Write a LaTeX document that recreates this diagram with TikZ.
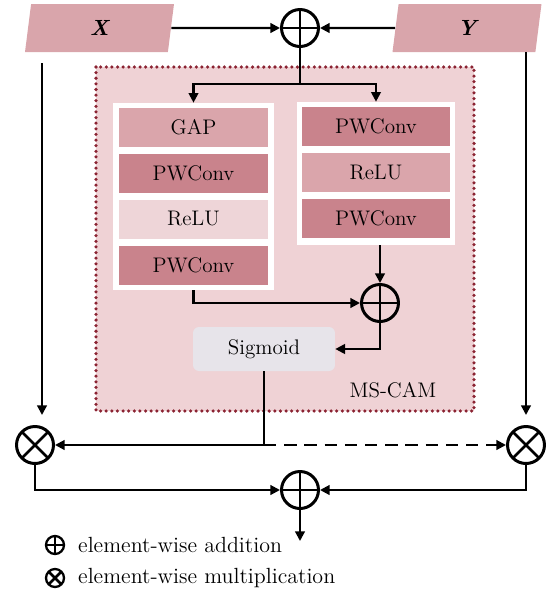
\documentclass[tikz,border=0pt]{standalone}
\usepackage{tikz}
\usetikzlibrary{arrows.meta,shapes.geometric}

\definecolor{inpink}{HTML}{D9A5AB}
\definecolor{campink}{HTML}{EFD2D5}
\definecolor{gapcol}{HTML}{DAA5AB}
\definecolor{pwcol}{HTML}{C9838C}
\definecolor{relucol}{HTML}{EED5D8}
\definecolor{sigcol}{HTML}{E7E4EA}
\definecolor{dotred}{HTML}{8B2332}

\begin{document}
\begin{tikzpicture}[x=0.02cm,y=-0.02cm,
        font=\fontsize{12}{14}\selectfont,
        line/.style={very thick},
        arr/.style={very thick,-{Triangle[length=5.5pt,width=5.5pt]}},
        op/.style={circle,draw,line width=1.7pt,minimum size=0.74cm,inner sep=0pt},
        addop/.style={op,path picture={\draw[line width=1.5pt]
            (path picture bounding box.north) -- (path picture bounding box.south)
            (path picture bounding box.west) -- (path picture bounding box.east);}},
        mulop/.style={op,path picture={\draw[line width=1.5pt]
            (path picture bounding box.north west) -- (path picture bounding box.south east)
            (path picture bounding box.north east) -- (path picture bounding box.south west);}},
        small op/.style={minimum size=0.36cm,line width=1.3pt},
        layer/.style={minimum width=2.98cm,minimum height=0.78cm,inner sep=0pt},
        whitebox/.style={fill=white,inner sep=0pt},
        input/.style={trapezium,trapezium left angle=68,trapezium right angle=112,
            trapezium stretches body,fill=inpink,inner sep=0pt,
            minimum width=2.98cm,minimum height=0.96cm,
            font=\fontsize{12.5}{14}\selectfont\bfseries\itshape},
        camframe/.style={draw=dotred,fill=campink,line width=2pt,line cap=round,
            dash pattern=on 0pt off 3.2pt}]
    \useasboundingbox (0,0) rectangle (548,596);

    % inputs and first fusion
    \node[input] (xin) at (99.5,28) {X};
    \node[input] (yin) at (467,28) {Y};
    \node[addop] (add1) at (300,28) {};
    \coordinate (split1) at (300,84);

    % MS-CAM block
    \draw[camframe] (96,67) rectangle (474,411);
    \node[whitebox,minimum width=3.22cm,minimum height=3.74cm] (lbox) at (193.5,196.5) {};
    \node[whitebox,minimum width=3.18cm,minimum height=2.86cm] (rbox) at (376,173.5) {};

    \node[layer,fill=gapcol] (gap) at (193.5,127.5) {GAP};
    \node[layer,fill=pwcol] (pw1) at (193.5,173) {PWConv};
    \node[layer,fill=relucol] (relu1) at (193.5,219) {ReLU};
    \node[layer,fill=pwcol] (pw2) at (193.5,265.5) {PWConv};

    \node[layer,fill=pwcol] (pw3) at (376,126.5) {PWConv};
    \node[layer,fill=gapcol] (relu2) at (376,172.5) {ReLU};
    \node[layer,fill=pwcol] (pw4) at (376,218) {PWConv};

    \node[addop] (add2) at (380,303) {};
    \node[fill=sigcol,rounded corners=0.12cm,minimum width=2.84cm,minimum height=0.88cm]
        (sig) at (264,349) {Sigmoid};
    \node (cam) at (393,390) {MS-CAM};

    % weighting and output
    \coordinate (split2) at (264,445);
    \node[mulop] (mul1) at (35,445) {};
    \node[mulop] (mul2) at (526,445) {};
    \node[addop] (add3) at (300,490) {};
    \coordinate (out) at (300,541);
    \coordinate (xdown) at (42,415);
    \coordinate (ydown) at (526,415);

    \draw[arr] (xin) -- (add1);
    \draw[arr] (yin) -- (add1);
    \draw[line] (add1) -- (split1);
    \draw[arr] (split1) -| (lbox.north);
    \draw[arr] (split1) -| (rbox.north);
    \draw[arr] (lbox.south) |- (add2);
    \draw[arr] (rbox.south -| add2) -- (add2);
    \draw[arr] (add2) |- (sig);
    \draw[line] (sig) -- (split2);
    \draw[arr] (split2) -- (mul1);
    \draw[arr,dash pattern=on 7pt off 4.5pt] (split2) -- (mul2);
    \draw[arr,shorten <=0.22cm] (xdown |- xin.south) -- (xdown);
    \draw[arr] (ydown |- yin.south) -- (ydown);
    \draw[arr] (mul1) |- (add3);
    \draw[arr] (mul2) |- (add3);
    \draw[arr] (add3) -- (out);

    % legend
    \node[addop,small op] (ladd) at (55,545) {};
    \node[anchor=west,font=\fontsize{12.5}{14}\selectfont] (tadd) at (72,545) {element-wise addition};
    \node[mulop,small op] (lmul) at (55,578) {};
    \node[anchor=west,font=\fontsize{12.5}{14}\selectfont] (tmul) at (72,578) {element-wise multiplication};
\end{tikzpicture}
\end{document}
